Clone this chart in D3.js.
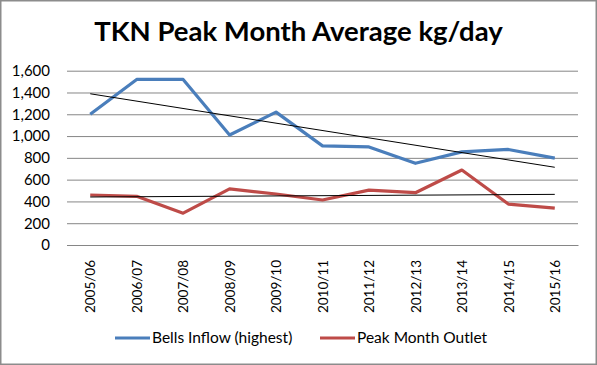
<!DOCTYPE html>
<html><head><meta charset="utf-8">
<script src="https://cdn.jsdelivr.net/npm/d3@7"></script>
<style>body{margin:0;background:#fff}svg{display:block}</style>
</head><body>
<script>
const categories = ["2005/06","2006/07","2007/08","2008/09","2009/10","2010/11","2011/12","2012/13","2013/14","2014/15","2015/16"];
const bellsInflow = [1200,1520,1520,1010,1220,910,900,750,855,877,797];
const peakOutlet = [459,447,292,515,468,413,504,480,688,376,338];
const yTicks = [0,200,400,600,800,1000,1200,1400,1600];
const seriesNames = ["Bells Inflow (highest)","Peak Month Outlet"];
const colors = ["#4a7ebb","#be4b48"];

(function(){
const W=597,H=365;
const svg=d3.select("body").append("svg").attr("width",W).attr("height",H);
svg.append("rect").attr("x",0.5).attr("y",0.5).attr("width",W-1).attr("height",H-1).attr("fill","#fff").attr("stroke","#8c8c8c").attr("stroke-width",2);

const pl=67,pr=578,pt=70.7,pb=245;
const x=d3.scalePoint().domain(categories).range([pl,pr]).padding(0.5);
const y=d3.scaleLinear().domain([0,1600]).range([pb,pt]);

const font="Lato, Open Sans, sans-serif";
svg.append("text").attr("x",298.5).attr("y",41).attr("text-anchor","middle")
  .attr("font-family",font).attr("font-weight","bold").attr("font-size",27.5).attr("fill","#000")
  .text("TKN Peak Month Average kg/day");

const yAxis=d3.axisLeft(y).tickValues(yTicks).tickSize(-(pr-pl)).tickFormat(d3.format(","));
const gy=svg.append("g").attr("transform",`translate(${pl},0)`).call(yAxis);
gy.select(".domain").remove();
gy.selectAll(".tick line").attr("stroke","#868686").attr("stroke-width",1);
gy.selectAll(".tick text").attr("font-family",font).attr("font-size",15).attr("fill","#000").attr("x",-17);

const xAxis=d3.axisBottom(x).tickSize(0).tickPadding(0);
const gx=svg.append("g").attr("transform",`translate(0,${pb})`).call(xAxis);
gx.select(".domain").attr("stroke","#868686");
gx.selectAll(".tick text").attr("font-family",font).attr("font-size",13.5).attr("fill","#000")
  .attr("transform","rotate(-90)").attr("text-anchor","end").attr("x",-15).attr("y",0).attr("dy","0.35em").attr("dx",0);

function trend(vals){
  const n=vals.length, xs=d3.range(n), mx=d3.mean(xs), my=d3.mean(vals);
  const b=d3.sum(xs,(i)=>(i-mx)*(vals[i]-my))/d3.sum(xs,i=>(i-mx)*(i-mx));
  const a=my-b*mx; return [a, a+b*(n-1)];
}
const line=d3.line().x((d,i)=>x(categories[i])).y(d=>y(d));
[bellsInflow,peakOutlet].forEach((s,k)=>{
  svg.append("path").datum(s).attr("d",line).attr("fill","none").attr("stroke",colors[k]).attr("stroke-width",3.2).attr("stroke-linejoin","round");
});
[bellsInflow,peakOutlet].forEach((s)=>{
  const t=trend(s);
  svg.append("line").attr("x1",x(categories[0])).attr("x2",x(categories[categories.length-1]))
    .attr("y1",y(t[0])).attr("y2",y(t[1])).attr("stroke","#000").attr("stroke-width",1);
});

const lx=[115,320];
seriesNames.forEach((n,k)=>{
  svg.append("line").attr("x1",lx[k]).attr("x2",lx[k]+35).attr("y1",338).attr("y2",338).attr("stroke",colors[k]).attr("stroke-width",3.2);
  svg.append("text").attr("x",lx[k]+37).attr("y",338).attr("dy","0.35em").attr("font-family",font).attr("font-size",15.5).attr("fill","#000").text(n);
});
})();
</script>
</body></html>
